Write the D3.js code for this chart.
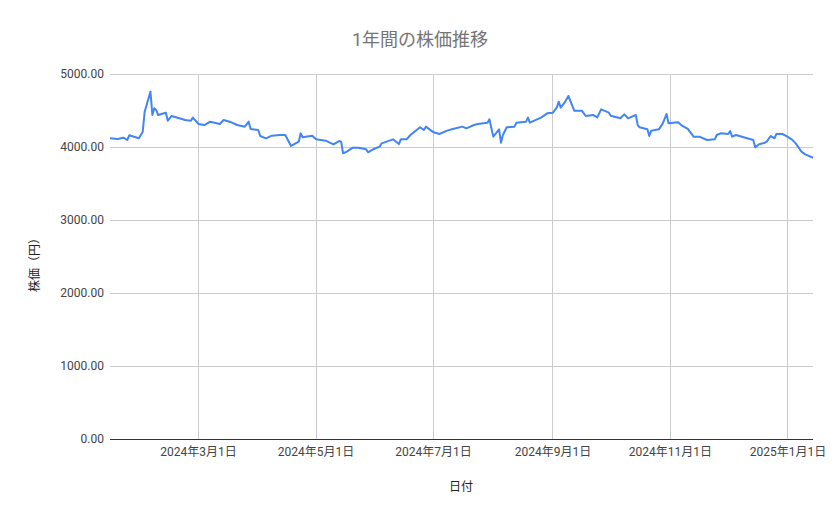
<!DOCTYPE html>
<html><head><meta charset="utf-8">
<script src="https://cdn.jsdelivr.net/npm/d3@7"></script>
<style>
body{margin:0;background:#fff;}
text{font-family:Roboto,"Noto Sans CJK JP",sans-serif;}
</style></head>
<body><svg id="c" width="839" height="519"></svg>
<script>
const dates = ["2024-01-15","2024-01-19","2024-01-22","2024-01-24","2024-01-25","2024-01-30","2024-02-01","2024-02-02","2024-02-05","2024-02-06","2024-02-07","2024-02-08","2024-02-09","2024-02-13","2024-02-14","2024-02-16","2024-02-20","2024-02-23","2024-02-26","2024-02-27","2024-03-01","2024-03-04","2024-03-07","2024-03-12","2024-03-14","2024-03-18","2024-03-21","2024-03-25","2024-03-27","2024-03-28","2024-04-01","2024-04-02","2024-04-05","2024-04-08","2024-04-12","2024-04-15","2024-04-18","2024-04-22","2024-04-23","2024-04-24","2024-04-29","2024-05-01","2024-05-06","2024-05-10","2024-05-13","2024-05-14","2024-05-15","2024-05-17","2024-05-20","2024-05-23","2024-05-27","2024-05-28","2024-05-31","2024-06-03","2024-06-04","2024-06-10","2024-06-13","2024-06-14","2024-06-17","2024-06-19","2024-06-24","2024-06-26","2024-06-27","2024-07-01","2024-07-04","2024-07-08","2024-07-11","2024-07-16","2024-07-18","2024-07-22","2024-07-24","2024-07-29","2024-07-30","2024-08-01","2024-08-04","2024-08-05","2024-08-06","2024-08-08","2024-08-12","2024-08-13","2024-08-18","2024-08-19","2024-08-20","2024-08-26","2024-08-29","2024-09-01","2024-09-03","2024-09-04","2024-09-05","2024-09-07","2024-09-09","2024-09-12","2024-09-16","2024-09-18","2024-09-22","2024-09-24","2024-09-26","2024-09-30","2024-10-01","2024-10-06","2024-10-08","2024-10-10","2024-10-12","2024-10-14","2024-10-15","2024-10-16","2024-10-20","2024-10-21","2024-10-22","2024-10-26","2024-10-28","2024-10-30","2024-10-31","2024-11-05","2024-11-07","2024-11-10","2024-11-13","2024-11-16","2024-11-20","2024-11-24","2024-11-25","2024-11-27","2024-12-01","2024-12-02","2024-12-03","2024-12-05","2024-12-09","2024-12-14","2024-12-15","2024-12-17","2024-12-20","2024-12-21","2024-12-23","2024-12-25","2024-12-26","2024-12-29","2024-12-31","2025-01-03","2025-01-05","2025-01-08","2025-01-10","2025-01-14"];
const prices = [4120,4110,4127,4096,4160,4120,4210,4484,4758,4438,4530,4507,4438,4470,4360,4425,4393,4370,4360,4402,4315,4301,4347,4315,4370,4338,4301,4278,4347,4247,4233,4151,4119,4155,4164,4164,4014,4073,4187,4133,4155,4105,4087,4037,4082,4073,3914,3936,3991,3991,3968,3927,3973,4005,4050,4105,4041,4105,4105,4164,4270,4233,4279,4201,4178,4224,4247,4279,4256,4301,4315,4333,4379,4142,4242,4059,4164,4270,4279,4333,4347,4402,4333,4406,4461,4470,4543,4621,4539,4607,4699,4498,4498,4425,4438,4406,4516,4470,4429,4393,4447,4393,4416,4438,4301,4270,4242,4151,4224,4242,4324,4452,4324,4338,4292,4247,4142,4142,4096,4105,4164,4187,4178,4219,4142,4164,4133,4096,3995,4037,4059,4073,4151,4119,4178,4178,4151,4105,4050,3936,3900,3853];
const yTicks = [0,1000,2000,3000,4000,5000];
const xTickDates = ["2024-03-01","2024-05-01","2024-07-01","2024-09-01","2024-11-01","2025-01-01"];
const xDomain = ["2024-01-15","2025-01-14"];
const title = "1年間の株価推移";
const xTitle = "日付";
const yTitle = "株価（円）";

const parse = d3.timeParse("%Y-%m-%d");
const data = dates.map((d,i)=>({date:parse(d), v:prices[i]}));
const svg = d3.select("#c");
const L=110,R=813,T=74,B=439;
const x = d3.scaleTime().domain(xDomain.map(parse)).range([L,R]);
const y = d3.scaleLinear().domain([0,5000]).range([B,T]);

// horizontal grid
svg.append("g").selectAll("line").data(yTicks.filter(t=>t>0)).join("line")
  .attr("x1",L).attr("x2",R).attr("y1",d=>y(d)).attr("y2",d=>y(d))
  .attr("stroke","#cccccc").attr("stroke-width",1).attr("shape-rendering","crispEdges");
// vertical grid
const xt = xTickDates.map(parse);
svg.append("g").selectAll("line").data(xt).join("line")
  .attr("x1",d=>x(d)).attr("x2",d=>x(d)).attr("y1",T).attr("y2",B)
  .attr("stroke","#cccccc").attr("stroke-width",1).attr("shape-rendering","crispEdges");

// y axis labels
const fmt = d3.format(".2f");
svg.append("g").selectAll("text").data(yTicks).join("text")
  .attr("x",L-6).attr("y",d=>y(d)).attr("dy","0.35em").attr("text-anchor","end")
  .attr("font-size",12).attr("fill","#444").text(d=>fmt(d));

// x axis labels
const xfmt = d=>`${d.getFullYear()}年${d.getMonth()+1}月${d.getDate()}日`;
svg.append("g").selectAll("text").data(xt).join("text")
  .attr("x",d=>x(d)).attr("y",456).attr("text-anchor","middle")
  .attr("font-size",12).attr("fill","#444").text(xfmt);

// line
svg.append("path").datum(data)
  .attr("d",d3.line().x(d=>x(d.date)).y(d=>y(d.v)))
  .attr("fill","none").attr("stroke","#4285f4").attr("stroke-width",2).attr("stroke-linejoin","round");

// baseline
svg.append("line").attr("x1",L).attr("x2",R).attr("y1",B).attr("y2",B)
  .attr("stroke","#333").attr("stroke-width",1).attr("shape-rendering","crispEdges");

// titles
svg.append("text").attr("x",420).attr("y",46).attr("text-anchor","middle")
  .attr("font-size",18).attr("fill","#757575").text(title);
svg.append("text").attr("x",461).attr("y",491).attr("text-anchor","middle")
  .attr("font-size",12).attr("fill","#222").text(xTitle);
svg.append("text").attr("transform","translate(39,262) rotate(-90)").attr("text-anchor","middle")
  .attr("font-size",12).attr("fill","#222").text(yTitle);
</script></body></html>
